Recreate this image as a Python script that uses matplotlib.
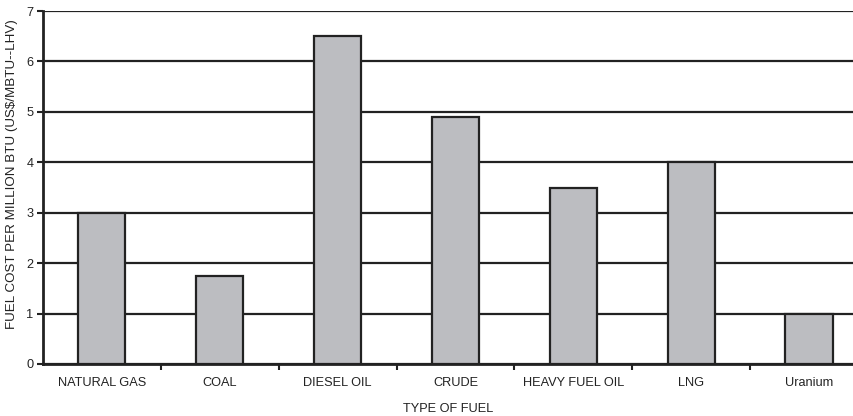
import matplotlib
matplotlib.use('Agg')
import matplotlib.pyplot as plt
import numpy as np

fuels = ['NATURAL GAS', 'COAL', 'DIESEL OIL', 'CRUDE', 'HEAVY FUEL OIL', 'LNG', 'Uranium']
costs = [3.0, 1.75, 6.5, 4.9, 3.5, 4.0, 1.0]

plt.rcParams['font.family'] = ['Liberation Sans', 'DejaVu Sans']

fig = plt.figure(figsize=(8.54, 4.16), dpi=100)
# axes runs past the right edge of the picture, like the original crop
ax = fig.add_axes([43 / 854, 52 / 416, 825 / 854, 353 / 416])

x = np.arange(len(fuels))
ax.bar(x, costs, width=0.4, color='#bcbdc1', edgecolor='#222222', linewidth=1.6, zorder=3)

ax.set_xlim(-0.5, len(fuels) - 0.5)
ax.set_ylim(0, 7)
ax.set_yticks(range(8))
ax.yaxis.grid(True, color='#222222', linewidth=1.6, zorder=0)
ax.set_axisbelow(True)

ax.set_xticks(x)
ax.set_xticklabels(fuels, fontsize=9.2, color='#222222')
ax.set_xticks(np.arange(0.5, len(fuels) - 0.5), minor=True)
ax.tick_params(axis='x', which='major', length=0, pad=9)
ax.tick_params(axis='x', which='minor', length=4, width=1.5, color='#222222')
ax.tick_params(axis='y', length=4, width=1.5, labelsize=9.2, color='#222222', labelcolor='#222222', pad=3)

for side in ['top', 'right']:
    ax.spines[side].set_visible(False)
for side in ['left', 'bottom']:
    ax.spines[side].set_linewidth(2)
    ax.spines[side].set_color('#222222')

ax.set_xlabel('TYPE OF FUEL', fontsize=9.2, color='#222222')
ax.xaxis.set_label_coords((448 - 43) / 825, -0.11)
ax.set_ylabel('FUEL COST PER MILLION BTU (US$/MBTU--LHV)', fontsize=9.6, color='#222222',
              va='center')
ax.yaxis.set_label_coords(-0.038, (364 - 174) / 353)

plt.savefig('out.png', dpi=100)
plt.close()
